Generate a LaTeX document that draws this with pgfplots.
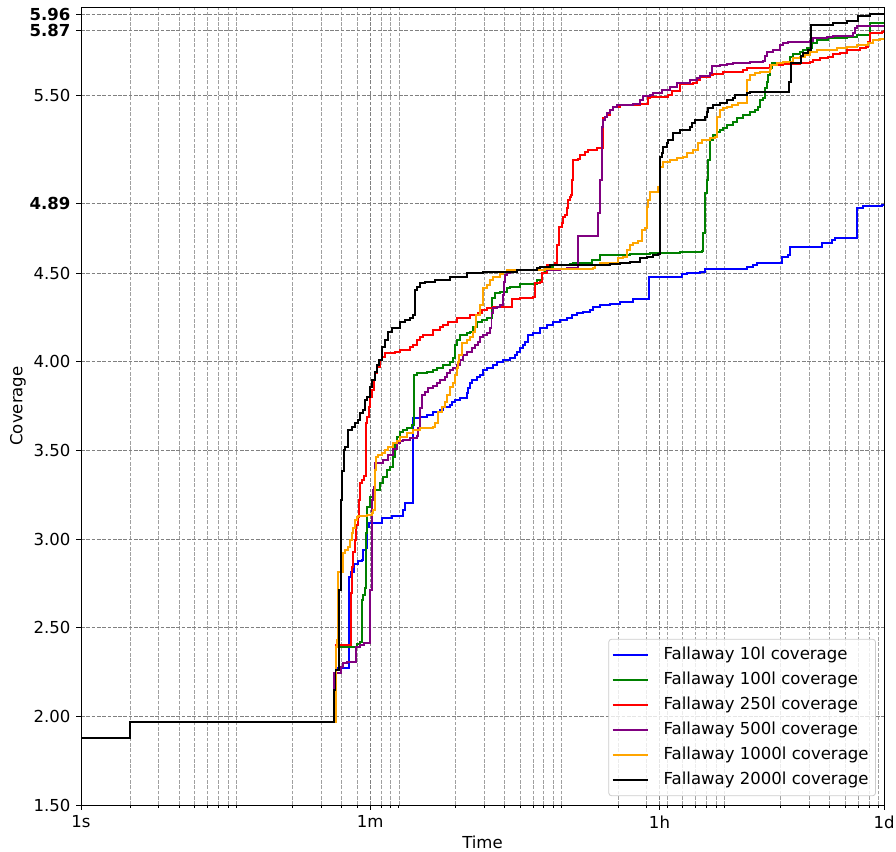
\documentclass[border=0pt]{standalone}
\usepackage{fontspec}
\setmainfont{DejaVu Sans}
\usepackage{pgfplots}
\pgfplotsset{compat=1.18}
\definecolor{mplblue}{RGB}{0,0,255}
\definecolor{mplgreen}{RGB}{0,128,0}
\definecolor{mplred}{RGB}{255,0,0}
\definecolor{mplpurple}{RGB}{128,0,128}
\definecolor{mplorange}{RGB}{255,165,0}
\definecolor{gridgray}{RGB}{128,128,128}
\definecolor{legframe}{RGB}{204,204,204}
\begin{document}
\fontsize{16.6}{20}\selectfont
\begin{tikzpicture}
\begin{axis}[
  scale only axis,
  width=803bp, height=798bp,
  xmode=log,
  xmin=1, xmax=86400,
  ymin=1.5, ymax=6.0,
  xtick={1,60,3600,86400},
  xticklabels={1s,1m,1h,1d},
  minor xtick={2,3,4,5,6,7,8,9,20,30,40,50,70,80,90,200,300,400,500,600,700,800,900,2000,3000,4000,5000,6000,7000,8000,9000,20000,30000,40000,50000,60000,70000,80000},
  ytick={1.5,2,2.5,3,3.5,4,4.5,4.89,5.5,5.87,5.96},
  yticklabels={1.50,2.00,2.50,3.00,3.50,4.00,4.50,\textbf{4.89},5.50,\textbf{5.87},\textbf{5.96}},
  grid=both,
  major grid style={gridgray, dash pattern=on 3.7bp off 1.6bp, line width=0.8bp},
  minor grid style={gridgray!75, dash pattern=on 3.7bp off 1.6bp, line width=0.6bp},
  tick align=outside,
  tick pos=left,
  major tick length=4.9bp,
  minor tick length=2.8bp,
  every tick/.style={black, line width=0.8bp},
  axis line style={line width=0.8bp},
  xlabel={Time}, ylabel={Coverage},
  xlabel style={at={([yshift=-31bp]axis description cs:0.5,0)}, anchor=north, inner sep=0pt},
  ylabel style={at={([xshift=-55bp]axis description cs:0,0.5)}, anchor=south, inner sep=0pt},
  legend style={at={(0.99,0.011)}, anchor=south east, draw=legframe, line width=0.8bp,
    rounded corners=3bp, fill=white, fill opacity=0.8, text opacity=1,
    font=\fontsize{16.6}{20}\selectfont, row sep=0bp, column sep=11bp, inner xsep=3bp, inner ysep=3.5bp,
    nodes={inner ysep=4.2bp, inner xsep=4bp, text depth=0.24em}},
  legend cell align=left,
  legend image code/.code={\draw[line width=2bp] (0bp,0.3bp) -- (35bp,0.3bp);},
  every axis plot/.append style={line width=1.9bp, const plot},
]
\coordinate (sw) at (rel axis cs:0,0);
\coordinate (ne) at (rel axis cs:1,1);

\addplot[mplblue] coordinates {(1,1.879) (2,1.970) (37.0,2.274) (44.47,2.787) (45.75,2.815) (47.73,2.860) (50.51,2.877) (53.45,2.883) (54.21,2.939) (56.56,2.950) (57.37,3.069) (59.02,3.091) (70.95,3.120) (81.74,3.131) (95.52,3.165) (98.26,3.204) (110.0,3.683) (121.5,3.689) (134.1,3.700) (146.0,3.717) (161.2,3.728) (168.2,3.745) (185.7,3.757) (191.0,3.773) (199.3,3.785) (213.9,3.796) (236.2,3.824) (239.5,3.852) (246.4,3.881) (253.5,3.897) (272.1,3.914) (283.9,3.926) (296.2,3.954) (313.5,3.965) (341.3,3.982) (361.2,3.999) (393.4,4.010) (434.4,4.022) (466.3,4.038) (479.7,4.055) (500.6,4.078) (522.4,4.095) (537.4,4.112) (560.8,4.151) (602.1,4.162) (665.0,4.191) (734.5,4.208) (800.0,4.224) (883.3,4.236) (975.3,4.247) (1046.9,4.264) (1123.6,4.275) (1223,4.281) (1352.4,4.292) (1411,4.309) (1558,4.320) (1794.7,4.326) (2067,4.337) (2483,4.354) (3110,4.478) (4963,4.495) (5326,4.501) (6402,4.506) (6873,4.523) (12470,4.534) (13580,4.546) (14370,4.557) (20470,4.591) (22280,4.602) (22920,4.647) (36060,4.670) (41560,4.687) (43360,4.698) (59180,4.867) (64430,4.878) (84310,4.884) (86400,4.890)};
\addlegendentry{Fallaway 10l coverage}

\addplot[mplgreen] coordinates {(1,1.879) (2,1.970) (37.0,2.392) (49.8,2.409) (51.96,2.421) (53.45,2.657) (54.21,2.686) (55.77,2.725) (56.56,3.035) (57.37,3.181) (59.86,3.238) (62.46,3.277) (68.97,3.317) (71.96,3.351) (76.16,3.390) (79.46,3.407) (82.91,3.463) (85.29,3.542) (87.74,3.576) (91.55,3.604) (95.52,3.616) (101.1,3.627) (108.5,3.644) (110.8,3.926) (116.4,3.937) (134.1,3.943) (146.0,3.954) (154.5,3.965) (168.2,3.982) (185.7,3.999) (193.7,4.022) (199.3,4.095) (205.0,4.123) (213.9,4.151) (236.2,4.162) (246.4,4.168) (257.1,4.196) (272.1,4.224) (292.0,4.236) (313.5,4.247) (336.5,4.360) (351.1,4.388) (377.0,4.394) (416.3,4.416) (434.4,4.422) (500.6,4.439) (637.2,4.461) (684.1,4.501) (714.0,4.518) (734.5,4.534) (800.0,4.546) (1017.6,4.551) (1061.8,4.557) (1391.2,4.574) (1558,4.602) (2380,4.608) (3154,4.613) (4824,4.619) (6587,4.625) (6681,4.726) (6873,4.952) (7071,5.025) (7171,5.138) (7377,5.250) (7698,5.279) (8147,5.295) (8500,5.307) (8870,5.318) (9380,5.335) (10210,5.352) (10800,5.374) (11780,5.391) (13010,5.408) (13970,5.419) (14580,5.436) (15000,5.476) (15650,5.487) (16100,5.543) (16560,5.577) (16800,5.617) (17280,5.656) (17770,5.684) (22920,5.718) (23910,5.735) (26410,5.746) (27560,5.758) (29170,5.769) (31310,5.797) (33600,5.814) (39270,5.825) (51420,5.831) (59180,5.842) (71150,5.910) (86400,5.910)};
\addlegendentry{Fallaway 100l coverage}

\addplot[mplred] coordinates {(1,1.879) (2,1.970) (37.0,2.404) (45.75,2.697) (46.40,2.843) (47.06,2.928) (48.41,2.995) (49.10,3.080) (50.15,3.125) (50.87,3.221) (51.96,3.317) (53.45,3.334) (54.98,3.356) (56.16,3.655) (57.37,3.689) (58.60,3.745) (59.86,3.802) (61.58,3.841) (62.90,3.897) (64.25,3.937) (66.10,3.971) (68.97,4.010) (70.95,4.027) (74.03,4.050) (85.29,4.055) (91.55,4.067) (105.5,4.084) (110.0,4.095) (116.4,4.123) (121.5,4.140) (126.7,4.151) (146.0,4.179) (161.2,4.196) (168.2,4.208) (180.5,4.224) (205.0,4.247) (246.4,4.264) (276.0,4.275) (292.0,4.292) (313.5,4.303) (341.3,4.309) (446.9,4.354) (500.6,4.360) (602.1,4.365) (619.4,4.444) (665.0,4.450) (684.1,4.501) (734.5,4.546) (823.0,4.557) (846.6,4.658) (870.9,4.760) (908.7,4.782) (921.6,4.816) (948.1,4.828) (975.3,4.867) (989.2,4.912) (1017.6,4.929) (1032.2,4.940) (1046.9,5.025) (1061.8,5.138) (1139.6,5.143) (1172.3,5.166) (1259.9,5.183) (1314.6,5.194) (1493.2,5.205) (1625.6,5.374) (1672.3,5.380) (1720.3,5.391) (1794.7,5.419) (1872.6,5.436) (2067,5.448) (2738,5.453) (3066,5.487) (3154,5.493) (4070,5.504) (4307,5.527) (4824,5.566) (5798,5.572) (6136,5.589) (6402,5.605) (7377,5.617) (7698,5.622) (8870,5.634) (11780,5.645) (12470,5.656) (17280,5.673) (20760,5.679) (26410,5.684) (30430,5.690) (31750,5.701) (35060,5.713) (39270,5.718) (42150,5.735) (46550,5.741) (51420,5.758) (61750,5.769) (67230,5.775) (69160,5.803) (71150,5.854) (84310,5.859) (86400,5.870)};
\addlegendentry{Fallaway 250l coverage}

\addplot[mplpurple] coordinates {(1,1.879) (2,1.970) (35.7,2.150) (35.97,2.246) (39.71,2.280) (40.85,2.302) (43.23,2.308) (49.10,2.392) (51.96,2.404) (54.98,2.415) (59.86,2.714) (61.3,3.221) (62.0,3.277) (63.35,3.294) (64.25,3.430) (71.96,3.446) (77.24,3.475) (82.91,3.508) (87.74,3.542) (91.55,3.554) (95.52,3.559) (105.5,3.570) (116.4,3.582) (118.1,3.627) (121.5,3.740) (124.1,3.813) (130.3,3.830) (136.0,3.852) (146.0,3.864) (154.5,3.881) (161.2,3.897) (173.0,3.914) (178.0,3.937) (185.7,3.954) (193.7,3.965) (205.0,3.982) (213.9,4.010) (223.2,4.038) (236.2,4.055) (253.5,4.078) (264.5,4.095) (276.0,4.112) (283.9,4.140) (296.2,4.151) (313.5,4.162) (327.1,4.191) (334.1,4.275) (341.3,4.303) (361.2,4.309) (377.0,4.320) (393.4,4.377) (399.0,4.450) (404.7,4.489) (416.3,4.501) (434.4,4.506) (453.3,4.512) (479.7,4.518) (883.3,4.523) (975.3,4.529) (1131.6,4.709) (1514.5,4.839) (1558,5.025) (1591.6,5.324) (1625.6,5.363) (1672.3,5.380) (1720.3,5.403) (1794.7,5.419) (1872.6,5.436) (1981.3,5.448) (2483,5.453) (2738,5.476) (2857,5.498) (3154,5.504) (3291,5.515) (3739,5.532) (4187,5.549) (4623,5.572) (5557,5.589) (6136,5.600) (6402,5.611) (7377,5.628) (7590,5.667) (8500,5.673) (9380,5.679) (10210,5.684) (13010,5.690) (15650,5.696) (16100,5.724) (16560,5.746) (18030,5.758) (19900,5.786) (20760,5.797) (22280,5.803) (30430,5.808) (31750,5.825) (38710,5.831) (42150,5.837) (55920,5.854) (57530,5.882) (59180,5.893) (86400,5.893)};
\addlegendentry{Fallaway 500l coverage}

\addplot[mplorange] coordinates {(1,1.879) (2,1.970) (37.0,2.392) (37.53,2.432) (37.9,2.815) (40.7,2.922) (42.02,2.939) (43.85,2.956) (45.10,2.995) (46.40,3.035) (47.06,3.063) (48.41,3.108) (49.80,3.125) (50.51,3.131) (57.37,3.136) (61.58,3.148) (62.46,3.165) (64.25,3.390) (65.17,3.463) (67.04,3.475) (70.95,3.486) (74.03,3.503) (77.24,3.520) (82.91,3.542) (87.74,3.554) (91.55,3.576) (101.1,3.599) (110.0,3.616) (121.5,3.627) (146.0,3.633) (150.2,3.655) (156.7,3.717) (165.8,3.745) (173.0,3.773) (178.0,3.813) (185.7,3.858) (193.7,3.881) (199.3,3.926) (205.0,3.965) (207.9,3.999) (210.9,4.038) (220.0,4.106) (236.2,4.123) (246.4,4.140) (257.1,4.168) (264.5,4.196) (268.3,4.264) (283.9,4.320) (296.2,4.416) (313.5,4.433) (327.1,4.461) (341.3,4.478) (377.0,4.495) (393.4,4.506) (416.3,4.518) (714.0,4.523) (1411,4.529) (1451.5,4.546) (1558,4.557) (2009.5,4.585) (2156.6,4.591) (2281.5,4.630) (2380,4.658) (2483,4.670) (2662,4.681) (2817,4.743) (2939,4.754) (3023,4.873) (3066,4.912) (3154,4.957) (3533,4.985) (3634,5.098) (3792,5.126) (4187,5.138) (4623,5.149) (5033,5.155) (5326,5.177) (5798,5.194) (6224,5.233) (6587,5.250) (7377,5.262) (7919,5.267) (8090,5.324) (8147,5.380) (8500,5.419) (8870,5.431) (9380,5.436) (10070,5.448) (10960,5.459) (12380,5.589) (13010,5.617) (13970,5.628) (15000,5.634) (17280,5.651) (17520,5.673) (19070,5.684) (20760,5.690) (23910,5.713) (26410,5.718) (28350,5.730) (30430,5.746) (33600,5.758) (44610,5.769) (51420,5.775) (59180,5.786) (69160,5.797) (74240,5.814) (81960,5.820) (86400,5.825)};
\addlegendentry{Fallaway 1000l coverage}

\addplot[black] coordinates {(1,1.879) (2,1.970) (36.0,2.150) (36.7,2.263) (38.6,2.714) (39.5,3.221) (40.28,3.384) (41.43,3.503) (42.02,3.520) (43.85,3.616) (46.40,3.633) (48.41,3.655) (50.51,3.672) (51.96,3.711) (54.21,3.728) (55.77,3.785) (57.37,3.802) (59.86,3.858) (61.58,3.897) (64.25,3.943) (66.10,3.982) (68.00,4.010) (70.95,4.084) (74.03,4.123) (77.24,4.168) (81.74,4.191) (91.55,4.224) (98.26,4.236) (105.5,4.247) (110.0,4.264) (113.2,4.405) (116.4,4.422) (121.5,4.444) (130.3,4.450) (150.2,4.461) (185.7,4.478) (236.2,4.501) (296.2,4.506) (479.7,4.518) (637.2,4.529) (665.0,4.534) (766.5,4.546) (1794.7,4.551) (2067,4.557) (2380,4.563) (2738,4.585) (3023,4.591) (3291,4.602) (3533,4.608) (3634,5.155) (3739,5.177) (3792,5.211) (4013,5.233) (4070,5.250) (4369,5.290) (4824,5.307) (5557,5.324) (5717,5.346) (5965,5.363) (6873,5.380) (7071,5.408) (7171,5.431) (7698,5.448) (8500,5.459) (9380,5.476) (10210,5.487) (10500,5.504) (12470,5.515) (13010,5.521) (22590,5.577) (23240,5.684) (26790,5.724) (27560,5.741) (29580,5.758) (30870,5.899) (42150,5.910) (51420,5.921) (60020,5.949) (71150,5.961) (86400,5.961)};
\addlegendentry{Fallaway 2000l coverage}
\end{axis}
\pgfresetboundingbox
\path ([xshift=-81bp,yshift=-47bp]sw) rectangle ([xshift=12bp,yshift=7bp]ne);
\end{tikzpicture}
\end{document}
